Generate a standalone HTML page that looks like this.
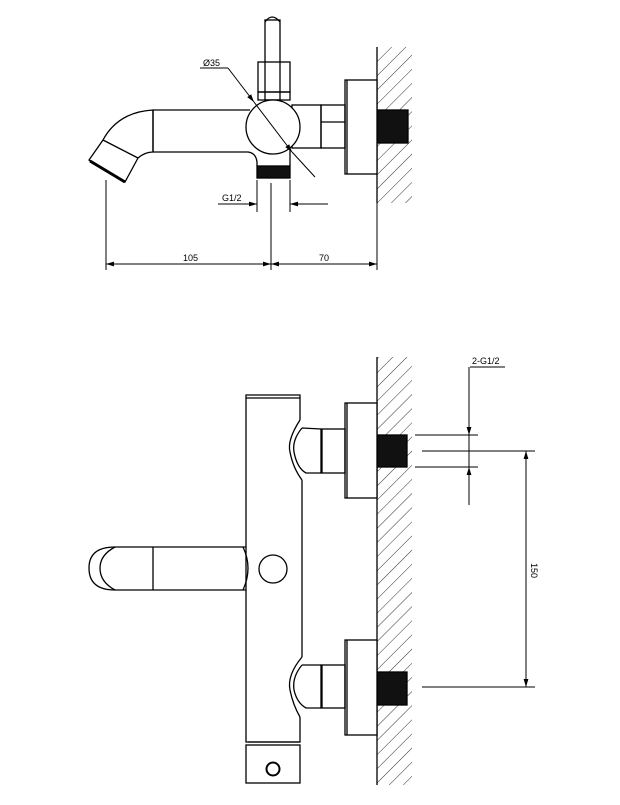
<!DOCTYPE html>
<html><head><style>body{margin:0;background:#fff}svg{display:block}</style></head><body>
<svg width="620" height="805" viewBox="0 0 620 805" xmlns="http://www.w3.org/2000/svg" font-family="Liberation Sans, sans-serif">
<defs>
<pattern id="h" width="10" height="10" patternUnits="userSpaceOnUse" patternTransform="rotate(45)">
<line x1="0" y1="0" x2="0" y2="10" stroke="#333" stroke-width="1"/>
</pattern>
<marker id="a" viewBox="0 0 10 10" refX="10" refY="5" markerWidth="8" markerHeight="8" orient="auto-start-reverse"><path d="M0,2 L10,5 L0,8z" fill="#000"/></marker>
</defs>
<g fill="none" stroke="#000" stroke-width="1.3">
<!-- TOP VIEW -->
<rect x="377" y="47" width="35" height="156" fill="url(#h)" stroke="none"/>
<line x1="377" y1="47" x2="377" y2="203"/>
<rect x="376" y="110" width="32" height="33" fill="#111"/>
<rect x="345" y="80" width="32" height="94" fill="#fff"/>
<line x1="347" y1="80" x2="347" y2="174"/>
<rect x="321" y="105" width="24" height="43"/>
<line x1="321" y1="122" x2="345" y2="122"/>
<rect x="292" y="105" width="29" height="43"/>
<rect x="265" y="20" width="15" height="80" fill="#fff"/>
<path d="M265,22 Q272,12 280,22"/>
<rect x="258" y="62" width="32" height="30" fill="#fff"/>
<line x1="265" y1="62" x2="265" y2="92"/><line x1="280" y1="62" x2="280" y2="92"/>
<rect x="258" y="92" width="32" height="8"/>
<path d="M153,110 L250,110 M153,152 L248,152 Q256,153 257,162 L257,166"/>
<path d="M153,110 Q118,112 103,140 L89,160 L125,182 L138,158 Q145,152 153,152 Z" fill="#fff"/>
<line x1="153" y1="110" x2="153" y2="152"/>
<line x1="103" y1="140" x2="138" y2="158"/>
<line x1="90" y1="161" x2="125" y2="182" stroke-width="3"/>
<circle cx="273" cy="127" r="27" fill="#fff"/>
<rect x="257" y="166" width="33" height="12" fill="#111"/>
<line x1="290" y1="150" x2="290" y2="166"/>
<!-- Ø35 -->
<line x1="200" y1="68" x2="228" y2="68" stroke-width="1"/>
<line x1="228" y1="68" x2="254" y2="102" stroke-width="1" marker-end="url(#a)"/>
<line x1="254" y1="102" x2="292" y2="152" stroke-width="1" marker-end="url(#a)"/>
<line x1="292" y1="152" x2="315" y2="177" stroke-width="1"/>
<!-- G1/2 -->
<line x1="257" y1="180" x2="257" y2="212" stroke-width="1"/>
<line x1="290" y1="180" x2="290" y2="212" stroke-width="1"/>
<line x1="218" y1="204" x2="257" y2="204" stroke-width="1" marker-end="url(#a)"/>
<line x1="328" y1="204" x2="290" y2="204" stroke-width="1" marker-end="url(#a)"/>
<!-- 105/70 -->
<line x1="106" y1="180" x2="106" y2="270" stroke-width="1"/>
<line x1="271" y1="183" x2="271" y2="270" stroke-width="1"/>
<line x1="377" y1="203" x2="377" y2="270" stroke-width="1"/>
<line x1="106" y1="264" x2="271" y2="264" stroke-width="1" marker-start="url(#a)" marker-end="url(#a)"/>
<line x1="271" y1="264" x2="377" y2="264" stroke-width="1" marker-start="url(#a)" marker-end="url(#a)"/>

<!-- BOTTOM VIEW -->
<rect x="377" y="357" width="35" height="428" fill="url(#h)" stroke="none"/>
<line x1="377" y1="357" x2="377" y2="785"/>
<rect x="377" y="435" width="30" height="32" fill="#111"/>
<rect x="377" y="672" width="30" height="33" fill="#111"/>
<rect x="345" y="403" width="32" height="95" fill="#fff"/>
<line x1="347" y1="403" x2="347" y2="498"/>
<rect x="345" y="640" width="32" height="95" fill="#fff"/>
<line x1="347" y1="640" x2="347" y2="735"/>
<rect x="321" y="429" width="24" height="44"/>
<line x1="322" y1="429" x2="322" y2="473"/>
<rect x="321" y="665" width="24" height="43"/>
<line x1="322" y1="665" x2="322" y2="708"/>
<!-- body -->
<path d="M300,420 L300,395 L246,395 L246,742 L300,742 L300,717"/>
<line x1="246" y1="398" x2="300" y2="398"/>
<path d="M300,420 Q287,440 290,452 Q293,468 302,480"/>
<path d="M302,428 Q292,440 294,452 Q297,468 306,473 L321,473 M302,428 L321,429"/>
<path d="M302,657 Q287,675 290,690 Q293,705 300,717"/>
<path d="M302,665 Q292,677 294,690 Q297,703 306,708 L321,708 M302,665 L321,665"/>
<line x1="302" y1="480" x2="302" y2="657"/>
<rect x="246" y="745" width="54" height="38"/>
<line x1="248" y1="742" x2="300" y2="742"/>
<circle cx="273" cy="769" r="6.5" stroke-width="2"/>
<path d="M246,547 L115,547 Q89,547 89,568 Q89,590 115,590 L246,590"/>
<path d="M115,547 Q100,555 100,568 Q100,582 115,590"/>
<line x1="153" y1="547" x2="153" y2="590"/>
<path d="M243,547 Q253,568 243,590"/>
<circle cx="273" cy="569" r="14"/>
<!-- dims -->
<line x1="470" y1="367" x2="505" y2="367" stroke-width="1"/>
<line x1="469" y1="367" x2="469" y2="435" stroke-width="1" marker-end="url(#a)"/>
<line x1="469" y1="505" x2="469" y2="467" stroke-width="1" marker-end="url(#a)"/>
<line x1="469" y1="435" x2="469" y2="467" stroke-width="1"/>
<line x1="415" y1="435" x2="478" y2="435" stroke-width="1"/>
<line x1="415" y1="467" x2="478" y2="467" stroke-width="1"/>
<line x1="422" y1="451" x2="535" y2="451" stroke-width="1"/>
<line x1="422" y1="687" x2="535" y2="687" stroke-width="1"/>
<line x1="526" y1="451" x2="526" y2="687" stroke-width="1" marker-start="url(#a)" marker-end="url(#a)"/>
</g>
<g font-size="9" fill="#000">
<text x="203" y="66">Ø35</text>
<text x="222" y="201">G1/2</text>
<text x="183" y="261">105</text>
<text x="319" y="261">70</text>
<text x="472" y="364">2-G1/2</text>
<text transform="translate(531,563) rotate(90)">150</text>
</g>
</svg>
</body></html>
